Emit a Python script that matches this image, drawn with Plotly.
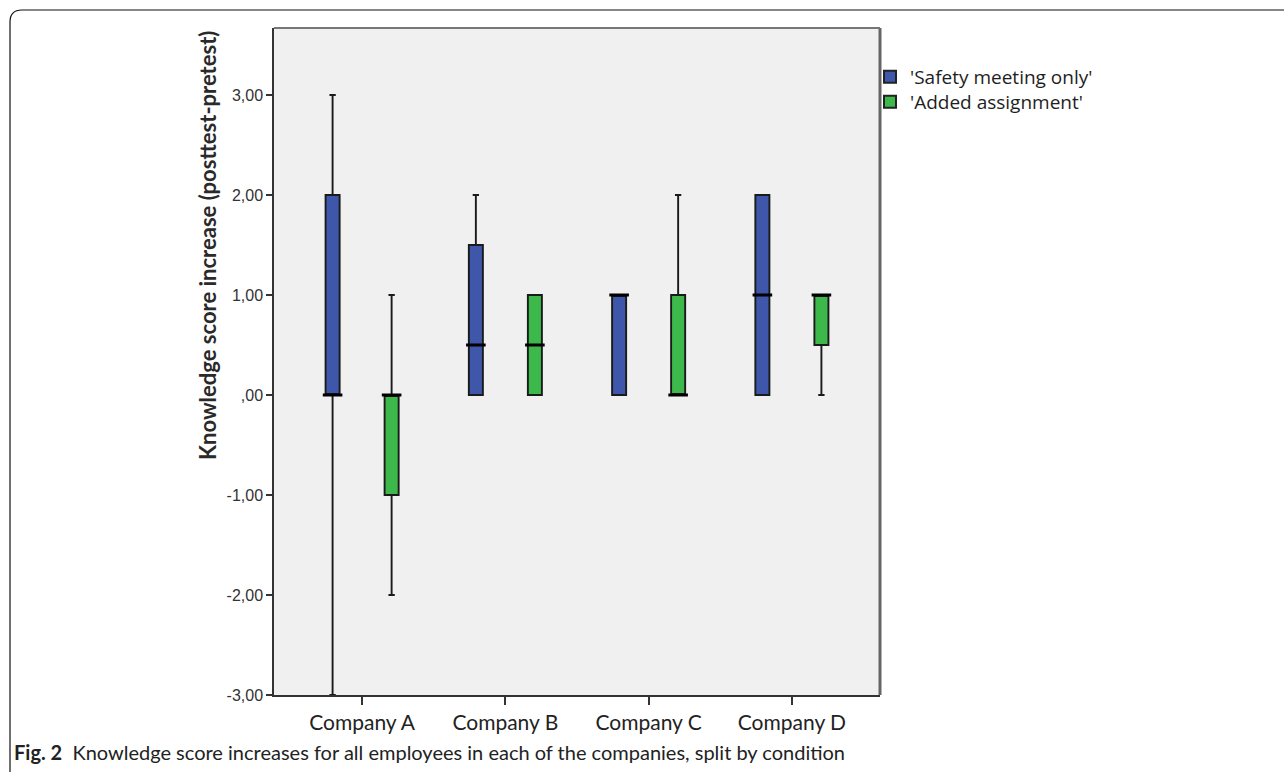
import plotly.graph_objects as go

categories = ["Company A", "Company B", "Company C", "Company D"]

safety_lower = [-3, 0, 0, 0]
safety_q1 = [0, 0, 0, 0]
safety_median = [0, 0.5, 1, 1]
safety_q3 = [2, 1.5, 1, 2]
safety_upper = [3, 2, 1, 2]

added_lower = [-2, 0, 0, 0]
added_q1 = [-1, 0, 0, 0.5]
added_median = [0, 0.5, 0, 1]
added_q3 = [0, 1, 1, 1]
added_upper = [1, 1, 2, 1]

y_ticks = [-3, -2, -1, 0, 1, 2, 3]
y_tick_labels = ["-3,00", "-2,00", "-1,00", ",00", "1,00", "2,00", "3,00"]

series_names = ["'Safety meeting only'", "'Added assignment'"]
series_colors = ["#3E57AA", "#3CB94A"]

W, H = 1284, 772
L, R, T, B = 274, 880, 28, 695

def px_x(p):
    return (p - L) / (R - L)

def px_y(p):
    return 1 - (p - T) / (B - T)

offset = 0.206
box_w = 0.098
idx = list(range(len(categories)))
legend_ids = ["legend", "legend2"]
legend_rows = [77, 102]

fig = go.Figure()
series = [
    (safety_lower, safety_q1, safety_median, safety_q3, safety_upper, -offset),
    (added_lower, added_q1, added_median, added_q3, added_upper, offset),
]
for k, (lo, q1, med, q3, up, off) in enumerate(series):
    xs = [i + off for i in idx]
    fig.add_trace(go.Box(
        x=xs, q1=q1, median=med, q3=q3, lowerfence=lo, upperfence=up,
        width=box_w, whiskerwidth=0.45,
        fillcolor=series_colors[k],
        line=dict(color="#1a1a1a", width=1.9),
        boxpoints=False, showlegend=False, hoverinfo="skip",
    ))
    fig.add_trace(go.Scatter(
        x=xs, y=med, mode="markers",
        marker=dict(symbol="line-ew", size=14, line=dict(color="#000000", width=3)),
        showlegend=False, hoverinfo="skip",
    ))
    fig.add_trace(go.Scatter(
        x=[None], y=[None], mode="markers", name=series_names[k],
        legend=legend_ids[k],
        marker=dict(symbol="square", size=14, color=series_colors[k],
                    line=dict(color="#222222", width=1)),
    ))

border = (
    f"M {px_x(10)},{px_y(772)} L {px_x(10)},{px_y(22)} "
    f"Q {px_x(10)},{px_y(10)} {px_x(22)},{px_y(10)} L {px_x(1284)},{px_y(10)}"
)

legend_common = dict(
    xanchor="left", yanchor="middle",
    font=dict(size=19, color="#1e1e1e", family="Open Sans, Lato, sans-serif"),
    bgcolor="rgba(0,0,0,0)", itemsizing="constant",
)

fig.update_layout(
    width=W, height=H,
    margin=dict(l=L, r=W - R, t=T, b=H - B),
    paper_bgcolor="white",
    plot_bgcolor="#F0F0F0",
    font=dict(family="Lato, Open Sans, sans-serif", color="#222222"),
    boxmode="overlay",
    xaxis=dict(
        range=[-0.615, 3.615], tickvals=idx, ticktext=categories,
        ticks="outside", ticklen=8, tickwidth=1.5, tickcolor="#333333",
        showline=True, linecolor="#333333", linewidth=1.5, mirror=False,
        showgrid=False, zeroline=False,
        tickfont=dict(size=21, color="#222222"),
    ),
    yaxis=dict(
        range=[-3, 3.67], tickvals=y_ticks, ticktext=y_tick_labels,
        ticks="outside", ticklen=6, tickwidth=1.5, tickcolor="#333333",
        showline=True, linecolor="#333333", linewidth=1.5, mirror=False,
        showgrid=False, zeroline=False,
        tickfont=dict(size=16, color="#333333", family="Liberation Sans, Arial, sans-serif"),
    ),
    legend=dict(x=px_x(870), y=px_y(legend_rows[0]), **legend_common),
    legend2=dict(x=px_x(870), y=px_y(legend_rows[1]), **legend_common),
    shapes=[
        dict(type="line", xref="paper", yref="paper",
             x0=1, x1=1, y0=0, y1=1, line=dict(color="#666666", width=3)),
        dict(type="line", xref="paper", yref="paper",
             x0=0, x1=1, y0=1, y1=1, line=dict(color="#777777", width=2)),
        dict(type="path", xref="paper", yref="paper", path=border,
             line=dict(color="#111111", width=1.2)),
    ],
    annotations=[
        dict(text="<b>Knowledge score increase (posttest-pretest)</b>",
             textangle=-90, xref="paper", yref="paper",
             x=px_x(207), y=px_y(246), xanchor="center", yanchor="middle",
             showarrow=False, font=dict(size=22, color="#2a2a2a")),
        dict(text="<b>Fig. 2</b>  Knowledge score increases for all employees in each of the companies, split by condition",
             xref="paper", yref="paper", x=px_x(12), y=px_y(752),
             xanchor="left", yanchor="middle", showarrow=False,
             font=dict(size=20, color="#222222")),
    ],
)

fig.write_html("out.html", config={"displayModeBar": False},
               post_script="document.body.style.margin='0';")
